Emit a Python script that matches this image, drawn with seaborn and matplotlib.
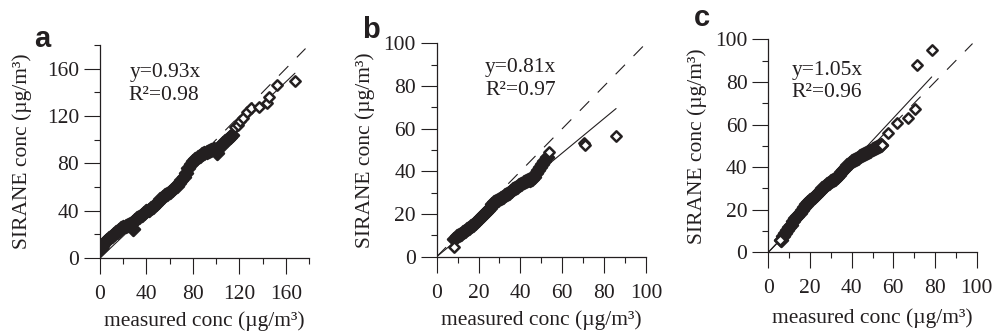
import matplotlib
matplotlib.use("Agg")
import matplotlib.pyplot as plt
import seaborn as sns
from matplotlib.ticker import MultipleLocator

# ---------------- data ----------------
# panel a
a_dense_x = [1, 2, 3, 4, 5, 6, 8, 10, 12, 14, 16, 18, 20, 22, 24, 26, 28, 28.5, 30,
             32, 34, 36, 38, 40, 42, 44, 46, 48, 50, 52, 54, 56, 58, 60, 62, 64, 66,
             68, 70, 72, 74, 76, 78, 80, 82, 84, 86, 88, 90, 92, 94, 96, 98, 100,
             101, 102, 104, 106, 108, 110, 112, 114]
a_dense_y = [8.5, 10, 11.5, 13.5, 14.5, 15.5, 17, 19, 20.5, 22, 23.5, 25, 26, 27, 28,
             29, 30.5, 24.5, 32, 33.5, 35, 36.5, 38, 39.5, 40.5, 42, 43.5, 45.5, 47.5,
             49.5, 51.5, 53, 54.5, 56, 57.5, 59, 61, 63, 65.5, 68.5, 72, 76, 79.5, 82,
             84, 85.5, 86.5, 87.5, 88.5, 89.5, 90.5, 91.5, 92, 91, 89, 93, 95, 97, 99,
             100.5, 102, 104]
a_sparse_x = [116.3, 119.1, 121.0, 123.4, 126.3, 130.0, 137.2, 143.5, 145.8, 152.2, 167.9]
a_sparse_y = [110.4, 112.4, 115.5, 118.0, 123.6, 127.0, 127.9, 131.3, 135.8, 146.2, 149.8]

# panel b
b_dense_x = [8.5, 9.5, 10.5, 11.5, 12.5, 13.5, 14.5, 15.5, 16.5, 17.5, 18.5, 19.5, 20.5,
             21.5, 22.5, 23.5, 24.5, 25.5, 26.5, 27.5, 28.5, 29.5, 30.5, 31.5, 32.5,
             33.5, 34.5, 35.5, 36.5, 37.5, 38.5, 39.5, 40.5, 41.5, 42.5, 43.5, 44.5,
             45.5, 46.5, 47.5, 48.5, 49.5, 50.5, 51.5, 52.5]
b_dense_y = [8.5, 9.5, 10, 10.5, 11.5, 12, 13, 13.5, 14.2, 15, 16, 17, 18, 19, 20, 21,
             22, 23, 24.5, 25.5, 26, 26.8, 27.5, 28, 28.8, 29.5, 30, 30.8, 31.5, 32,
             32.8, 33.5, 34, 34.8, 35.3, 35.8, 36, 36.5, 37.5, 39, 40.5, 42, 43.5, 45,
             46.5]
b_sparse_x = [8.3, 53.8, 70.6, 70.9, 85.7]
b_sparse_y = [4.7, 49.2, 53.3, 52.2, 56.6]

# panel c
c_dense_x = [6, 7, 8, 9, 10, 11, 12, 13, 14, 15, 16, 17, 18, 19, 20, 21, 22, 23, 24,
             25, 26, 27, 28, 29, 30, 31, 32, 33, 34, 35, 36, 37, 38, 39, 40, 41, 42,
             43, 44, 45, 46, 47, 48, 49, 50, 51, 52, 53, 54]
c_dense_y = [6, 7.5, 9, 10.5, 12, 13, 14.5, 16, 17, 18.5, 20, 21.5, 22.5, 23.5, 24.5,
             25, 26, 27, 28, 29, 30, 31, 32, 32.5, 33.5, 34, 34.5, 35.5, 36.5, 37.5,
             38.5, 39.5, 41, 42, 43, 43.5, 44, 44.5, 45, 45.5, 46, 46.5, 47, 47.5,
             48.5, 49, 49.5, 50, 50.5]
c_sparse_x = [5.6, 54.4, 57.3, 61.9, 67.2, 70.4, 71.2, 78.4]
c_sparse_y = [5.8, 50.4, 55.9, 60.8, 62.9, 67.1, 87.9, 95.0]

slopes = [0.93, 0.81, 1.05]
r2 = [0.98, 0.97, 0.96]
diag_end = [177, 99, 98]
panel_letters = ["a", "b", "c"]
axis_max = [180, 100, 100]
major_ticks = [[0, 40, 80, 120, 160], [0, 20, 40, 60, 80, 100], [0, 20, 40, 60, 80, 100]]
minor_step = [20, 10, 10]
xlabel = "measured conc (\u00b5g/m\u00b3)"
ylabel = "SIRANE conc (\u00b5g/m\u00b3)"

# ---------------- style ----------------
sns.set_theme(style="ticks")
plt.rcParams["font.family"] = ["Liberation Serif", "DejaVu Serif"]
INK = "#231f20"
plt.rcParams["text.color"] = INK
plt.rcParams["axes.labelcolor"] = INK
plt.rcParams["xtick.color"] = INK
plt.rcParams["ytick.color"] = INK

W, H = 993, 332
fig = plt.figure(figsize=(W / 100, H / 100), dpi=100)
fig.patch.set_facecolor("white")

# axes boxes in pixels: left, top, right, bottom
boxes = [(100, 45, 309, 258), (436.7, 43.3, 646, 256.7), (768.3, 39.3, 976.7, 252.3)]
letter_pos = [(34, 47), (362, 38), (694, 26)]
eq_pos = [((130, 76.5), (128, 100)), ((485, 72), (485, 95)), ((792, 75), (791, 97))]
ylab_x = [-0.325, -0.295, -0.294]
xlab_y = [-0.252, -0.25, -0.262]

data = [
    (a_dense_x, a_dense_y, a_sparse_x, a_sparse_y),
    (b_dense_x, b_dense_y, b_sparse_x, b_sparse_y),
    (c_dense_x, c_dense_y, c_sparse_x, c_sparse_y),
]

for i, (dx, dy, sx, sy) in enumerate(data):
    l, t, r, b = boxes[i]
    ax = fig.add_axes([l / W, 1 - b / H, (r - l) / W, (b - t) / H])
    ax.set_facecolor("white")
    m = axis_max[i]

    # 1:1 dashed line
    sns.lineplot(x=[0, diag_end[i]], y=[0, diag_end[i]], ax=ax, color=INK,
                 linewidth=0.8, linestyle=(0, (12, 11)), sort=False,
                 estimator=None, zorder=2)
    # fit line
    xmax = max(max(dx), max(sx))
    sns.lineplot(x=[0, xmax], y=[0, slopes[i] * xmax], ax=ax, color=INK,
                 linewidth=0.8, sort=False, estimator=None, zorder=2)

    # dense (overlapping) points and isolated open diamonds
    sns.scatterplot(x=dx, y=dy, ax=ax, marker="D", s=44, color=INK,
                    edgecolor=INK, linewidth=1.8, zorder=3)
    sns.scatterplot(x=sx, y=sy, ax=ax, marker="D", s=28, color="white",
                    edgecolor=INK, linewidth=1.8, zorder=4)

    ax.set_xticks(major_ticks[i])
    ax.set_yticks(major_ticks[i])
    ax.xaxis.set_minor_locator(MultipleLocator(minor_step[i]))
    ax.yaxis.set_minor_locator(MultipleLocator(minor_step[i]))
    ax.set_xlim(0, m)
    ax.set_ylim(0, m)

    ax.tick_params(axis="both", which="major", length=11.5, width=0.8,
                   direction="out", labelsize=15.5, color=INK)
    ax.tick_params(axis="both", which="minor", length=4.5, width=0.8,
                   direction="out", color=INK)
    ax.tick_params(axis="x", which="major", pad=8)
    ax.tick_params(axis="y", which="major", pad=3.5)

    sns.despine(ax=ax)
    for sp in ("left", "bottom"):
        ax.spines[sp].set_linewidth(0.9)
        ax.spines[sp].set_color(INK)

    ax.set_xlabel(xlabel, fontsize=15.5, va="top")
    ax.set_ylabel(ylabel, fontsize=15.5)
    ax.xaxis.set_label_coords(0.5, xlab_y[i])
    ax.yaxis.set_label_coords(ylab_x[i], 0.5)

    (e1x, e1y), (e2x, e2y) = eq_pos[i]
    fig.text(e1x / W, 1 - e1y / H, f"y={slopes[i]:.2f}x", fontsize=15.5,
             va="baseline", ha="left")
    fig.text(e2x / W, 1 - e2y / H, f"R\u00b2={r2[i]:.2f}", fontsize=15.5,
             va="baseline", ha="left")

    lx, ly = letter_pos[i]
    fig.text(lx / W, 1 - ly / H, panel_letters[i], fontsize=21,
             fontweight="bold", family=["Liberation Sans", "DejaVu Sans"],
             va="baseline", ha="left", color=INK)

fig.savefig("out.png", dpi=100, facecolor="white")
